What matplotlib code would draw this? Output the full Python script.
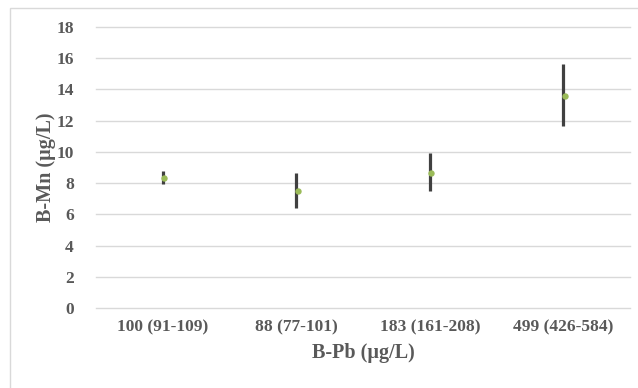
import matplotlib
matplotlib.use("Agg")
import matplotlib.pyplot as plt
import matplotlib.transforms as mtransforms
from matplotlib.patches import Rectangle

categories = ["100 (91-109)", "88 (77-101)", "183 (161-208)", "499 (426-584)"]
mean_mn = [8.3, 7.5, 8.63, 13.6]
low_mn = [7.95, 6.43, 7.47, 11.67]
high_mn = [8.78, 8.67, 9.96, 15.64]
yticks = [0, 2, 4, 6, 8, 10, 12, 14, 16, 18]

plt.rcParams['font.family'] = ['Liberation Serif', 'DejaVu Serif']

fig = plt.figure(figsize=(6.38, 3.88), dpi=100)
ax = fig.add_axes([96/638, 80/388, (630-96)/638, (308-27)/388])

x = list(range(len(categories)))
ax.vlines(x, low_mn, high_mn, color="#404040", linewidth=2.3, zorder=3)
offset = mtransforms.offset_copy(ax.transData, fig=fig, x=1.5, y=0, units='dots')
ax.plot(x, mean_mn, linestyle='none', marker='o', markersize=4.6,
        color="#9bbb59", markeredgewidth=0, zorder=4, transform=offset)

ax.set_xlim(-0.5, len(categories) - 0.5)
ax.set_ylim(0, 18)
ax.set_yticks(yticks)
ax.set_xticks(x)
ax.set_xticklabels(categories)
ax.yaxis.grid(True, color="#d9d9d9", linewidth=1.0)
for gl in ax.get_ygridlines():
    gl.set_clip_on(False)
ax.set_axisbelow(True)
for s in ax.spines.values():
    s.set_visible(False)
ax.tick_params(axis='both', length=0, labelsize=12.5, labelcolor="#595959")
ax.tick_params(axis='y', pad=16)
ax.tick_params(axis='x', pad=8)
for lab in ax.get_xticklabels() + ax.get_yticklabels():
    lab.set_fontweight('bold')

ax.set_xlabel("B-Pb (µg/L)", fontsize=14.5, fontweight='bold', color="#595959", labelpad=6)
ax.set_ylabel("B-Mn (µg/L)", fontsize=14.5, fontweight='bold', color="#595959", labelpad=0)

fig.patches.append(Rectangle((10/638, -0.1), 1.2, 1.1 - 8/388,
                             transform=fig.transFigure, fill=False,
                             edgecolor="#d9d9d9", linewidth=1.0))

fig.savefig("out.png", dpi=100)
